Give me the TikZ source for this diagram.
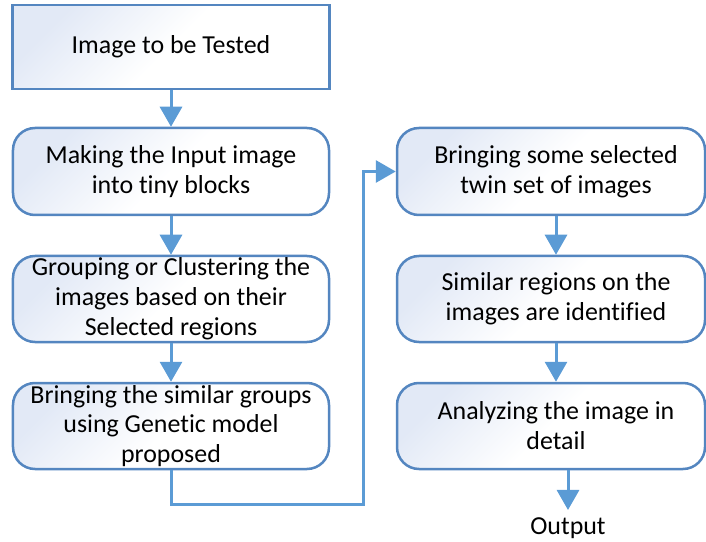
\documentclass[tikz,border=0pt]{standalone}
\usepackage{fontspec}
\setmainfont{Carlito}[Ligatures={NoCommon}]
\usetikzlibrary{arrows.meta}
\definecolor{bord}{RGB}{84,134,192}
\definecolor{arrc}{RGB}{91,155,213}
\definecolor{fillc}{RGB}{226,233,246}
\begin{document}
\begin{tikzpicture}[x=1bp,y=-1bp,
 boxbase/.style={draw=bord, line width=2.5bp, top color=fillc, bottom color=white, middle color=white, shading angle=45, inner sep=0pt},
 rbox/.style={boxbase, rounded corners=22bp},
 sbox/.style={boxbase},
 txt/.style={font=\fontsize{26}{30}\selectfont, align=center, inner sep=0pt},
 arr/.style={draw=arrc, line width=3bp, -{Triangle[width=22bp,length=20bp]}}]
\useasboundingbox (0,0) rectangle (706,542);
\clip (0,0) rectangle (706,542);
% left column
\node[sbox, minimum width=317bp, minimum height=84bp] (b1) at (171,47) {};
\node[txt] (t1) at (b1) {Image to be Tested};
\node[rbox, minimum width=316bp, minimum height=87bp] (b2) at (171,171.5) {};
\node[txt] (t2) at (b2) {Making the Input image\\into tiny blocks};
\node[rbox, minimum width=316bp, minimum height=86bp] (b3) at (171,299) {};
\node[txt] (t3) at (b3) {Grouping or Clustering the\\images based on their\\Selected regions};
\node[rbox, minimum width=316bp, minimum height=86bp] (b4) at (171,426) {};
\node[txt] (t4) at (b4) {Bringing the similar groups\\using Genetic model\\proposed};
% right column
\coordinate (rx) at (556,0);
\node[rbox, minimum width=308bp, minimum height=87bp] (r1) at (551,171.5) {};
\node[txt] (s1) at (556,171.5) {Bringing some selected\\twin set of images};
\node[rbox, minimum width=308bp, minimum height=86bp] (r2) at (551,299) {};
\node[txt] (s2) at (556,299) {Similar regions on the\\images are identified};
\node[rbox, minimum width=308bp, minimum height=86bp] (r3) at (551,426) {};
\node[txt] (s3) at (556,426) {Analyzing the image in\\detail};
\node[txt, anchor=base, inner sep=7bp] (out) at (568,534) {Output};
% connectors
\coordinate (c1) at (171,504);
\coordinate (c2) at (363,504);
\draw[arr] (b1.south) -- (b2.north);
\draw[arr] (b2.south) -- (b3.north);
\draw[arr] (b3.south) -- (b4.north);
\draw[arr] (b4.south) -- (c1) -- (c2) |- (r1.west);
\draw[arr] (r1.south -| rx) -- (r2.north -| rx);
\draw[arr] (r2.south -| rx) -- (r3.north -| rx);
\draw[arr] (r3.south -| out) -- (out.north);
\end{tikzpicture}
\end{document}
